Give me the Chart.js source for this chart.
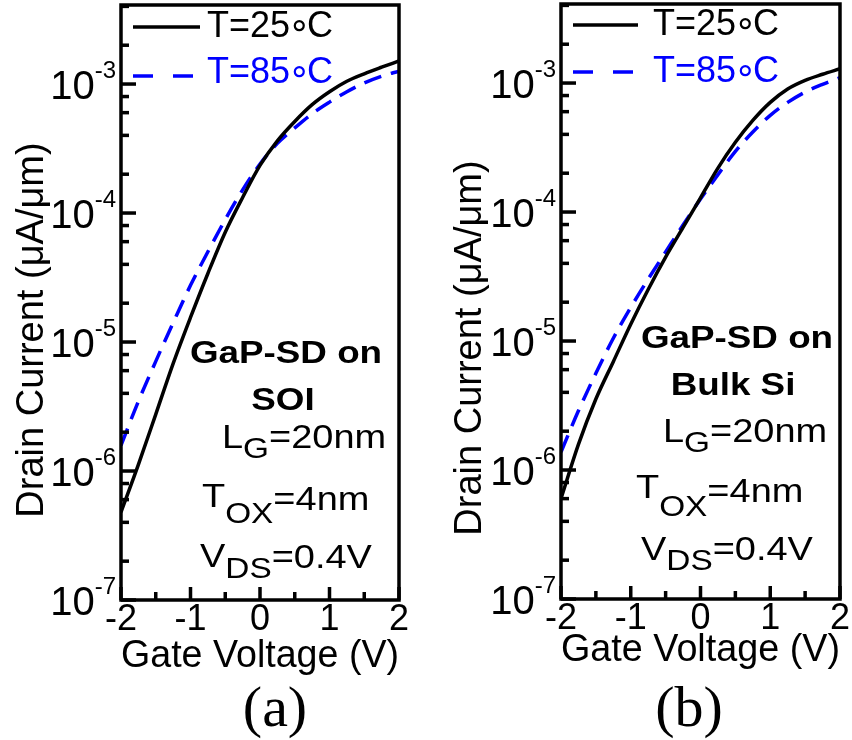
<!DOCTYPE html>
<html>
<head>
<meta charset="utf-8">
<script src="https://cdn.jsdelivr.net/npm/chart.js@4.4.0/dist/chart.umd.min.js"></script>
<style>
body { margin: 0; background: #fff; width: 852px; height: 740px; position: relative; overflow: hidden; }
.panel { position: absolute; top: 0; height: 740px; }
#wrapA { left: 0; width: 420px; }
#wrapB { left: 430px; width: 422px; }
</style>
</head>
<body>
<div class="panel" id="wrapA"><canvas id="chartA"></canvas></div>
<div class="panel" id="wrapB"><canvas id="chartB"></canvas></div>
<script>
// gate voltage sweep (V)
const gateVoltage = [-2, -1.75, -1.5, -1.25, -1, -0.75, -0.5, -0.25, 0, 0.25, 0.5, 0.75, 1, 1.25, 1.5, 1.75, 2];

// drain current (uA/um)
const soiCurrent25 = [4.8e-7, 1.12e-6, 2.75e-6, 6.8e-6, 1.55e-5, 3.4e-5, 7.1e-5, 1.32e-4, 2.34e-4, 3.63e-4, 5.13e-4, 6.92e-4, 8.71e-4, 1.05e-3, 1.2e-3, 1.35e-3, 1.51e-3];
const soiCurrent85 = [1.58e-6, 3.47e-6, 7.08e-6, 1.41e-5, 2.75e-5, 5.01e-5, 8.91e-5, 1.51e-4, 2.4e-4, 3.47e-4, 4.57e-4, 5.89e-4, 7.24e-4, 8.71e-4, 1.02e-3, 1.15e-3, 1.26e-3];
const bulkCurrent25 = [6.0e-7, 1.58e-6, 3.55e-6, 6.92e-6, 1.35e-5, 2.51e-5, 4.47e-5, 7.59e-5, 1.29e-4, 2.19e-4, 3.47e-4, 5.13e-4, 7.08e-4, 9.0e-4, 1.05e-3, 1.17e-3, 1.29e-3];
const bulkCurrent85 = [1.38e-6, 2.88e-6, 5.62e-6, 1.05e-5, 1.82e-5, 3.02e-5, 4.9e-5, 7.94e-5, 1.26e-4, 1.95e-4, 2.95e-4, 4.17e-4, 5.62e-4, 7.08e-4, 8.51e-4, 9.77e-4, 1.1e-3];

const seriesLabels = ['T=25\u2218C', 'T=85\u2218C'];

// ticks
const voltTicks = [-2, -1, 0, 1, 2];
const voltMinorTicks = [-1.5, -0.5, 0.5, 1.5];
const decadeTicks = [1e-7, 1e-6, 1e-5, 1e-4, 1e-3];
const decadeExponents = ['-7', '-6', '-5', '-4', '-3'];
const decadeSteps = [2, 4, 6, 8];

const SANS = '"Liberation Sans", Arial, "DejaVu Sans", sans-serif';
const SERIF = '"Liberation Serif", "Times New Roman", serif';
const BLUE = '#0000ff';

function drawRuns(ctx, note) {
    const sx = 1.15;
    let total = 0;
    note.runs.forEach(r => {
        ctx.font = (r.b ? 'bold ' : '') + r.s + 'px ' + SANS;
        r.w = ctx.measureText(r.t).width * sx;
        total += r.w;
    });
    let cx = note.center ? note.x - total / 2 : note.x;
    note.runs.forEach(r => {
        ctx.font = (r.b ? 'bold ' : '') + r.s + 'px ' + SANS;
        ctx.save();
        ctx.translate(cx, note.y + (r.dy || 0));
        ctx.scale(sx, 1);
        ctx.fillText(r.t, 0, 0);
        ctx.restore();
        cx += r.w;
    });
}

// legend label with a tight ring glyph between the number and C
function drawDegreeLabel(ctx, label, x, y) {
    const parts = label.split('\u2218');
    ctx.fillText(parts[0], x, y);
    let cx = x + ctx.measureText(parts[0]).width;
    const m = ctx.measureText('\u2218');
    const rx = cx + 3 + m.actualBoundingBoxLeft;
    ctx.fillText('\u2218', rx, y);
    cx = rx + m.actualBoundingBoxRight + 2;
    ctx.fillText(parts[1], cx, y);
}

function makeDecor(look) {
    return {
        id: 'decor',
        afterDraw(chart) {
            const ctx = chart.ctx;
            const a = chart.chartArea;
            const sx = chart.scales.x;
            const sy = chart.scales.y;
            ctx.save();
            ctx.setLineDash([]);

            // frame
            ctx.strokeStyle = '#000';
            ctx.lineWidth = 3.5;
            ctx.strokeRect(a.left, a.top, a.right - a.left, a.bottom - a.top);

            // inward ticks
            ctx.fillStyle = '#000';
            voltTicks.forEach(v => {
                const px = sx.getPixelForValue(v);
                ctx.fillRect(px - 1.75, a.bottom - 13, 3.5, 13);
            });
            voltMinorTicks.forEach(v => {
                const px = sx.getPixelForValue(v);
                ctx.fillRect(px - 1.75, a.bottom - 8, 3.5, 8);
            });
            decadeTicks.forEach(d => {
                const py = sy.getPixelForValue(d);
                ctx.fillRect(a.left, py - 1.75, 15, 3.5);
                decadeSteps.forEach(k => {
                    if (d * k < sy.max) {
                        const pm = sy.getPixelForValue(d * k);
                        ctx.fillRect(a.left, pm - 1.75, 8, 3.5);
                    }
                });
            });

            // y tick labels 10^n
            ctx.textBaseline = 'alphabetic';
            ctx.textAlign = 'right';
            decadeTicks.forEach((d, i) => {
                const py = sy.getPixelForValue(d);
                ctx.font = '24px ' + SANS;
                ctx.fillText(decadeExponents[i], a.left - 5, py - 6);
                const w = ctx.measureText(decadeExponents[i]).width;
                ctx.font = '40px ' + SANS;
                ctx.fillText('10', a.left - 5 - w, py + 15);
            });

            // y title
            ctx.save();
            ctx.translate(look.yTitle.x, look.yTitle.y);
            ctx.rotate(-Math.PI / 2);
            ctx.textAlign = 'center';
            ctx.font = '38px ' + SANS;
            ctx.fillText('Drain Current (\u03bcA/\u03bcm)', 0, 0);
            ctx.restore();

            // legend
            ctx.textAlign = 'left';
            ctx.font = '36px ' + SANS;
            chart.data.datasets.forEach((ds, i) => {
                const L = look.legend[i];
                ctx.strokeStyle = ds.borderColor;
                ctx.lineWidth = 3.5;
                ctx.setLineDash(i === 1 ? [20, 20] : []);
                ctx.beginPath();
                ctx.moveTo(L.x0, L.y);
                ctx.lineTo(L.x1, L.y);
                ctx.stroke();
                ctx.setLineDash([]);
                ctx.fillStyle = ds.borderColor;
                drawDegreeLabel(ctx, ds.label, L.tx, L.ty);
            });

            // notes
            ctx.fillStyle = '#000';
            look.notes.forEach(n => drawRuns(ctx, n));

            // panel label
            ctx.textAlign = 'center';
            ctx.font = '58px ' + SERIF;
            ctx.fillText(look.tag, look.tagX, 726);

            ctx.restore();
        }
    };
}

function makeChart(id, cur25, cur85, look) {
    return new Chart(document.getElementById(id), {
        type: 'line',
        data: {
            datasets: [
                {
                    label: seriesLabels[0],
                    data: gateVoltage.map((v, i) => ({ x: v, y: cur25[i] })),
                    borderColor: '#000',
                    borderWidth: 3.5,
                    pointRadius: 0,
                    cubicInterpolationMode: 'monotone'
                },
                {
                    label: seriesLabels[1],
                    data: gateVoltage.map((v, i) => ({ x: v, y: cur85[i] })),
                    borderColor: BLUE,
                    borderWidth: 3.5,
                    borderDash: [18, 10],
                    pointRadius: 0,
                    cubicInterpolationMode: 'monotone'
                }
            ]
        },
        options: {
            responsive: true,
            maintainAspectRatio: false,
            animation: false,
            layout: { padding: look.pad },
            plugins: { legend: { display: false }, tooltip: { enabled: false } },
            scales: {
                x: {
                    type: 'linear',
                    min: -2,
                    max: 2,
                    grid: { display: false, drawTicks: false },
                    border: { display: false },
                    ticks: {
                        stepSize: 1,
                        color: '#000',
                        padding: 2,
                        maxRotation: 0,
                        autoSkip: false,
                        font: { family: SANS, size: 36, lineHeight: 1 }
                    },
                    title: {
                        display: true,
                        text: 'Gate Voltage (V)',
                        color: '#000',
                        padding: { top: 0, bottom: look.titlePad },
                        font: { family: SANS, size: 38, lineHeight: 1 }
                    },
                    afterFit: s => { s.height = 80; }
                },
                y: {
                    type: 'logarithmic',
                    min: 1e-7,
                    max: 4.1e-3,
                    grid: { display: false, drawTicks: false },
                    border: { display: false },
                    ticks: { display: false },
                    afterFit: s => { s.width = look.yWidth; }
                }
            }
        },
        plugins: [makeDecor(look)]
    });
}

makeChart('chartA', soiCurrent25, soiCurrent85, {
    pad: { left: 0, right: 21, top: 5, bottom: 60 },
    yWidth: 121,
    titlePad: 4,
    yTitle: { x: 43, y: 330 },
    legend: [
        { x0: 133, x1: 200, y: 27, tx: 207, ty: 37 },
        { x0: 133, x1: 195, y: 76, tx: 207, ty: 83 }
    ],
    notes: [
        { x: 286, y: 363, center: true, runs: [{ t: 'GaP-SD on', s: 32, b: true }] },
        { x: 283, y: 410, center: true, runs: [{ t: 'SOI', s: 32, b: true }] },
        { x: 222, y: 448, runs: [{ t: 'L', s: 33 }, { t: 'G', s: 29, dy: 10 }, { t: '=20nm', s: 33 }] },
        { x: 202, y: 507, runs: [{ t: 'T', s: 33 }, { t: 'OX', s: 29, dy: 16 }, { t: '=4nm', s: 33, dy: 3 }] },
        { x: 200, y: 567, runs: [{ t: 'V', s: 33 }, { t: 'DS', s: 29, dy: 11 }, { t: '=0.4V', s: 33, dy: 1 }] }
    ],
    tag: '(a)',
    tagX: 275
});

makeChart('chartB', bulkCurrent25, bulkCurrent85, {
    pad: { left: 0, right: 11, top: 4, bottom: 61 },
    yWidth: 131,
    titlePad: 9,
    yTitle: { x: 51, y: 348 },
    legend: [
        { x0: 143, x1: 208, y: 25, tx: 223, ty: 35 },
        { x0: 143, x1: 206, y: 72, tx: 223, ty: 82 }
    ],
    notes: [
        { x: 307, y: 348, center: true, runs: [{ t: 'GaP-SD on', s: 32, b: true }] },
        { x: 303, y: 395, center: true, runs: [{ t: 'Bulk Si', s: 32, b: true }] },
        { x: 233, y: 442, runs: [{ t: 'L', s: 33 }, { t: 'G', s: 29, dy: 10 }, { t: '=20nm', s: 33 }] },
        { x: 206, y: 498, runs: [{ t: 'T', s: 33 }, { t: 'OX', s: 29, dy: 18 }, { t: '=4nm', s: 33, dy: 4 }] },
        { x: 211, y: 560, runs: [{ t: 'V', s: 33 }, { t: 'DS', s: 29, dy: 10 }, { t: '=0.4V', s: 33 }] }
    ],
    tag: '(b)',
    tagX: 259
});
</script>
</body>
</html>
